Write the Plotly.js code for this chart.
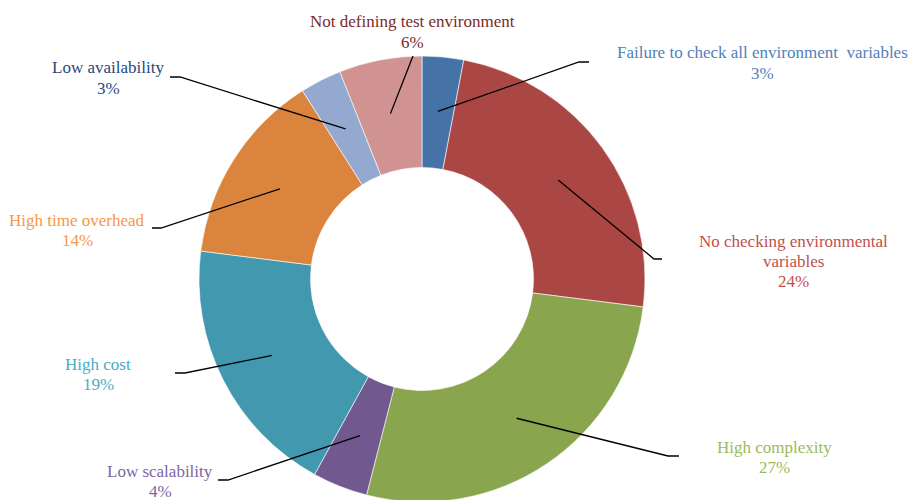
<!DOCTYPE html>
<html><head><meta charset="utf-8">
<script src="https://cdn.plot.ly/plotly-3.0.1.min.js"></script>
<style>
html,body{margin:0;padding:0;background:#fff;overflow:hidden}
#chart text{font-family:"Liberation Serif","DejaVu Serif","Times New Roman",Times,serif !important}
</style>
</head><body>
<div id="chart" style="width:909px;height:504px"></div>
<script>
const categories = ["Failure to check all environment  variables", "No checking environmental<br>variables", "High complexity", "Low scalability", "High cost", "High time overhead", "Low availability", "Not defining test environment"];
const values = [3, 24, 27, 4, 19, 14, 3, 6];
const sliceColors = ["#4572A7", "#AA4643", "#89A54E", "#71588F", "#4198AF", "#DB843D", "#93A9CF", "#D19392"];
const labelColors = ["#4F81BD", "#C0504D", "#9BBB59", "#8064A2", "#4BACC6", "#F79646", "#1F497D", "#772C2A"];

// layout (pixel) positions for labels (first-line centre) and leader-line elbows
const W = 909, H = 504;
const CX = 422, CY = 279, R = 223;
const LINE = 20;
const labelPos = [[762, 53], [793, 241], [774, 447], [160, 471], [98, 364], [77, 220], [108, 68], [412, 22]];
const elbows = [[579, 62], [654, 259], [668, 456], [228, 480], [185, 373], [161, 228], [180, 77], [413, 56]];
const ends = [[589, 62], [662, 259], [679, 456], [218, 480], [175, 373], [152, 228], [170, 77], null];

const px = x => x / W, py = y => 1 - y / H;
const total = values.reduce((a, b) => a + b, 0);
const FONT = "Liberation Serif";
const shapes = [], annotations = [];
let cum = 0;
values.forEach((v, i) => {
  const mid = (cum + v / 2) / total * 2 * Math.PI;
  cum += v;
  const ax = CX + 0.755 * R * Math.sin(mid), ay = CY - 0.755 * R * Math.cos(mid);
  let path = `M ${px(ax)} ${py(ay)} L ${px(elbows[i][0])} ${py(elbows[i][1])}`;
  if (ends[i]) path += ` L ${px(ends[i][0])} ${py(ends[i][1])}`;
  shapes.push({type: 'path', xref: 'paper', yref: 'paper', path: path, line: {color: '#000', width: 1.3}});
  const lines = categories[i].split('<br>').concat([Math.round(v / total * 100) + '%']);
  lines.forEach((t, k) => {
    annotations.push({
      xref: 'paper', yref: 'paper', x: px(labelPos[i][0]), y: py(labelPos[i][1] + k * LINE),
      xanchor: 'center', yanchor: 'middle', showarrow: false, align: 'center',
      text: t,
      font: {family: FONT, size: 17, color: labelColors[i]}
    });
  });
});

const trace = {
  type: 'pie', values: values, labels: categories, sort: false, direction: 'clockwise',
  hole: 0.5, textinfo: 'none', hoverinfo: 'label+percent',
  marker: {colors: sliceColors, line: {color: '#ffffff', width: 0.6}},
  domain: {x: [px(CX - R), px(CX + R)], y: [py(CY + R), py(CY - R)]}
};

Plotly.newPlot('chart', [trace], {
  width: W, height: H, margin: {l: 0, r: 0, t: 0, b: 0},
  showlegend: false, paper_bgcolor: '#fff', plot_bgcolor: '#fff',
  font: {family: FONT},
  shapes: shapes, annotations: annotations
}, {displayModeBar: false, staticPlot: true});
</script>
</body></html>
